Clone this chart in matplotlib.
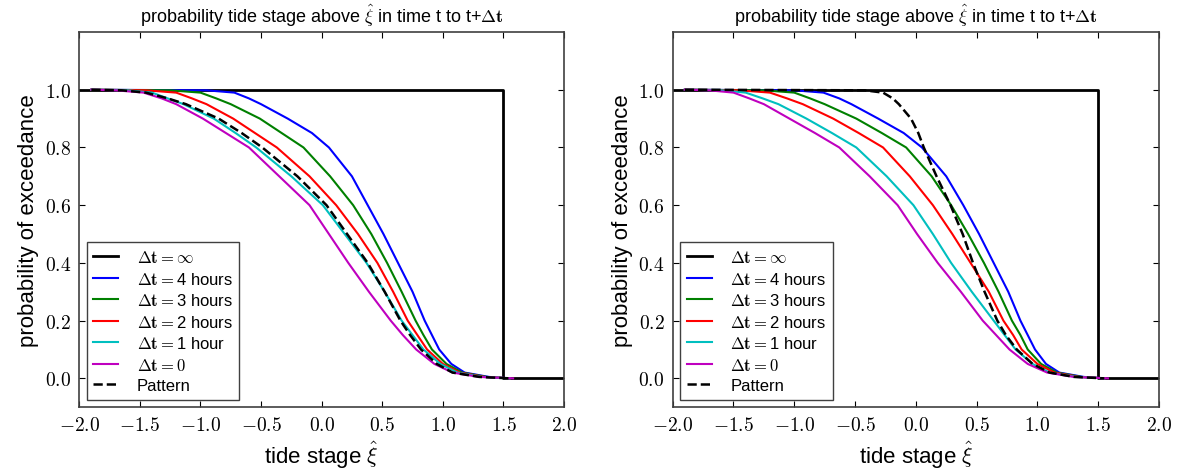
import numpy as np
import matplotlib
matplotlib.use('Agg')
import matplotlib.pyplot as plt
from matplotlib.ticker import FuncFormatter

plt.rcParams['font.family'] = ['Liberation Sans', 'DejaVu Sans']
plt.rcParams['mathtext.fontset'] = 'cm'

levels = [1.0, 0.998, 0.99, 0.97, 0.95, 0.9, 0.85, 0.8, 0.7, 0.6, 0.5,
          0.4, 0.3, 0.2, 0.15, 0.1, 0.05, 0.02, 0.005, 0.0]

# left panel: tide stage reaching each level
left_4h = [-1.9, -0.95, -0.72, -0.6, -0.5, -0.28, -0.08, 0.06, 0.25, 0.38, 0.51,
           0.63, 0.75, 0.85, 0.91, 0.97, 1.07, 1.18, 1.38, 1.55]
left_3h = [-1.9, -1.25, -1.0, -0.87, -0.75, -0.51, -0.33, -0.15, 0.07, 0.26, 0.41,
           0.54, 0.66, 0.775, 0.84, 0.91, 1.03, 1.16, 1.36, 1.55]
left_2h = [-1.9, -1.45, -1.2, -1.07, -0.95, -0.73, -0.55, -0.37, -0.1, 0.12, 0.3,
           0.46, 0.59, 0.71, 0.79, 0.87, 1.0, 1.14, 1.34, 1.55]
left_1h = [-1.9, -1.6, -1.4, -1.27, -1.14, -0.89, -0.71, -0.54, -0.25, 0.01, 0.19,
           0.37, 0.52, 0.66, 0.75, 0.84, 0.98, 1.12, 1.32, 1.55]
left_0h = [-1.9, -1.7, -1.47, -1.32, -1.2, -0.98, -0.79, -0.6, -0.35, -0.1, 0.06,
           0.22, 0.39, 0.57, 0.67, 0.78, 0.93, 1.08, 1.3, 1.58]
left_pat = [-1.9, -1.65, -1.45, -1.27, -1.12, -0.85, -0.66, -0.49, -0.2, 0.04, 0.21,
            0.38, 0.52, 0.65, 0.73, 0.82, 0.95, 1.08, 1.3, 1.55]

# right panel
right_4h = [-1.9, -1.0, -0.76, -0.63, -0.53, -0.31, -0.1, 0.05, 0.25, 0.39, 0.52,
            0.64, 0.76, 0.86, 0.92, 0.98, 1.07, 1.18, 1.38, 1.55]
right_3h = [-1.9, -1.25, -1.0, -0.87, -0.75, -0.49, -0.28, -0.08, 0.13, 0.29, 0.43,
            0.56, 0.68, 0.79, 0.86, 0.92, 1.03, 1.16, 1.36, 1.55]
right_2h = [-1.9, -1.45, -1.2, -1.06, -0.93, -0.68, -0.47, -0.27, -0.05, 0.14, 0.3,
            0.45, 0.6, 0.72, 0.8, 0.87, 1.0, 1.14, 1.34, 1.55]
right_1h = [-1.9, -1.6, -1.4, -1.26, -1.13, -0.9, -0.69, -0.49, -0.24, -0.02, 0.14,
            0.29, 0.46, 0.64, 0.73, 0.82, 0.96, 1.1, 1.32, 1.55]
right_0h = [-1.9, -1.7, -1.5, -1.37, -1.25, -1.04, -0.83, -0.63, -0.38, -0.15, 0.01,
            0.18, 0.37, 0.55, 0.66, 0.77, 0.92, 1.08, 1.3, 1.58]
right_pat = [-1.9, -0.42, -0.27, -0.19, -0.14, -0.04, 0.02, 0.065, 0.17, 0.285, 0.385,
             0.47, 0.565, 0.67, 0.74, 0.83, 0.96, 1.1, 1.3, 1.55]

# dt = infinity: step at the highest stage
inf_x = [-2.0, 1.5, 1.5, 2.0]
inf_y = [1.0, 1.0, 0.0, 0.0]

labels = [r'$\mathbf{\Delta t} = \infty$',
          r'$\mathbf{\Delta t} =$4 hours',
          r'$\mathbf{\Delta t} =$3 hours',
          r'$\mathbf{\Delta t} =$2 hours',
          r'$\mathbf{\Delta t} =$1 hour',
          r'$\mathbf{\Delta t} = 0$',
          'Pattern']
colors = ['b', 'g', 'r', 'c', 'm']


def panel(ax, curves, pattern):
    ax.plot(inf_x, inf_y, color='k', lw=2, label=labels[0])
    for xs, c, lab in zip(curves, colors, labels[1:6]):
        ax.plot(xs, levels, color=c, lw=1.5, label=lab)
    ax.plot(pattern, levels, 'k--', lw=1.8, label=labels[6])

    ax.set_xlim(-2.0, 2.0)
    ax.set_ylim(-0.1, 1.2)
    ax.set_xticks(np.arange(-2.0, 2.01, 0.5))
    ax.set_yticks(np.arange(0.0, 1.01, 0.2))
    ax.xaxis.set_major_formatter(FuncFormatter(lambda v, p: r'$%.1f$' % v))
    ax.yaxis.set_major_formatter(FuncFormatter(lambda v, p: r'$%.1f$' % v))
    ax.tick_params(direction='in', top=True, right=True, length=4, labelsize=14, pad=6)
    for s in ax.spines.values():
        s.set_color('0.25')
        s.set_linewidth(1.2)

    ax.set_xlabel(r'tide stage $\hat{\xi}$', fontsize=16)
    ax.set_ylabel('probability of exceedance', fontsize=16)
    ax.set_title(r'probability tide stage above $\hat{\xi}$ in time t to t+$\mathbf{\Delta t}$',
                 fontsize=13, pad=7)
    leg = ax.legend(loc='lower left', fontsize=12, handlelength=1.5, labelspacing=0.33,
                    fancybox=False, framealpha=1, borderaxespad=0.45, handletextpad=1.1)
    leg.get_frame().set_edgecolor('0.25')


fig = plt.figure(figsize=(11.81, 4.77), dpi=100)
ax1 = fig.add_axes([0.0671, 0.1442, 0.4105, 0.7866])
ax2 = fig.add_axes([0.5696, 0.1442, 0.4118, 0.7866])

panel(ax1, [left_4h, left_3h, left_2h, left_1h, left_0h], left_pat)
panel(ax2, [right_4h, right_3h, right_2h, right_1h, right_0h], right_pat)

fig.savefig('out.png', dpi=100)
